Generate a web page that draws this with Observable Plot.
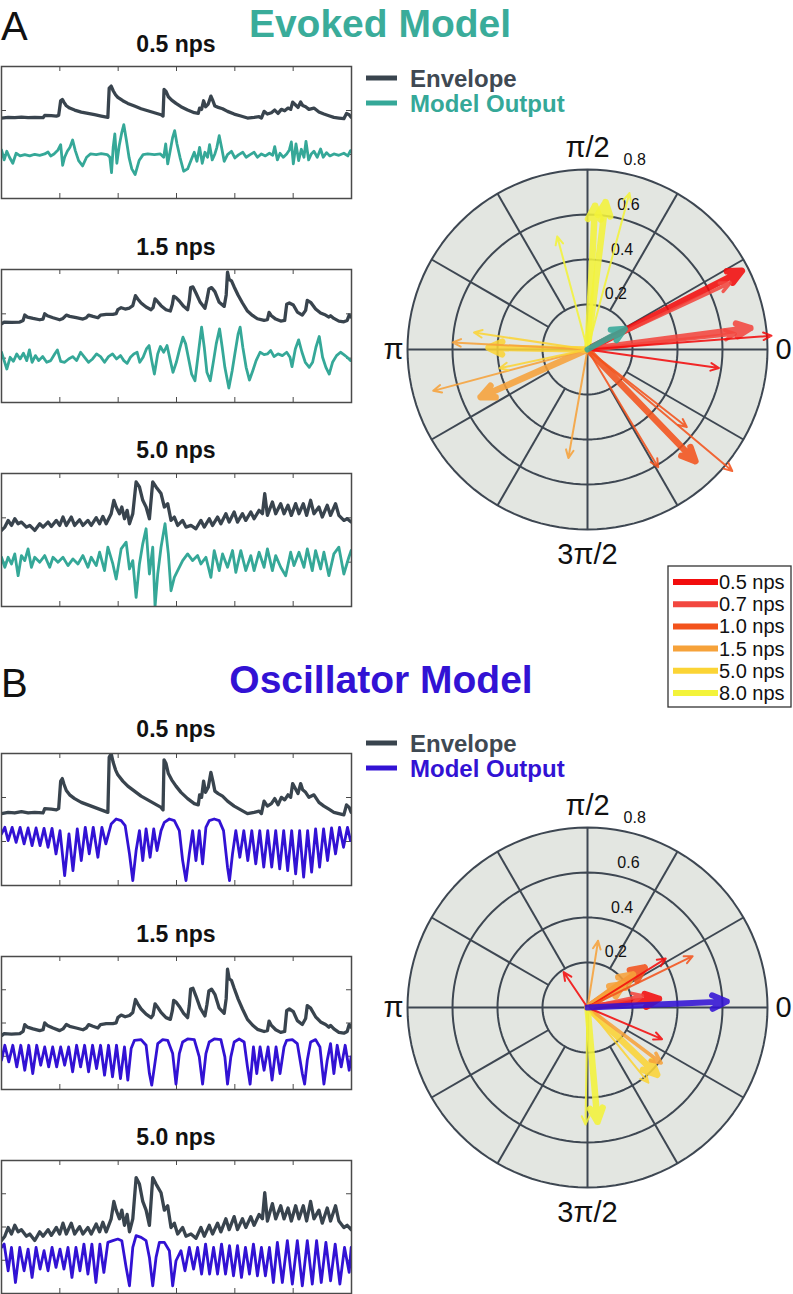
<!DOCTYPE html>
<html><head><meta charset="utf-8">
<script src="https://cdn.jsdelivr.net/npm/d3@7"></script>
<script src="https://cdn.jsdelivr.net/npm/@observablehq/plot@0.6"></script>
<style>
html,body{margin:0;padding:0;background:#fff;}
#page{position:relative;width:793px;height:1294px;overflow:hidden;font-family:"Liberation Sans",Arial,Helvetica,sans-serif;}
#page svg{position:absolute;}
</style></head><body><div id="page"></div>
<script>
// ---------------- DATA ----------------
const npsLabels = ["0.5 nps","0.7 nps","1.0 nps","1.5 nps","5.0 nps","8.0 nps"];
const npsColors = ["#f20d0d","#f2473f","#f3531c","#f6a23a","#fbd435","#f3f33a"];
const panelTitles = ["0.5 nps","1.5 nps","5.0 nps"];
const polarRings = [0.2,0.4,0.6,0.8];
const angleLabels = ["0","π/2","π","3π/2"];

// phase-locking vectors (r = vector length, deg = mean phase, w = line weight class)
const evokedArrows = [
  {nps:"8.0 nps", r:0.64, deg:87, w:3}, {nps:"8.0 nps", r:0.66, deg:83, w:3},
  {nps:"8.0 nps", r:0.72, deg:75, w:1}, {nps:"8.0 nps", r:0.52, deg:105, w:1},
  {nps:"0.5 nps", r:0.77, deg:27, w:3}, {nps:"0.7 nps", r:0.70, deg:25, w:2},
  {nps:"0.7 nps", r:0.73, deg:7.5, w:3}, {nps:"0.7 nps", r:0.66, deg:6, w:2},
  {nps:"0.5 nps", r:0.82, deg:4.3, w:1}, {nps:"0.5 nps", r:0.59, deg:-8, w:1},
  {nps:"1.0 nps", r:0.69, deg:-46, w:3}, {nps:"1.0 nps", r:0.84, deg:-40, w:1},
  {nps:"1.0 nps", r:0.56, deg:-38, w:1}, {nps:"1.0 nps", r:0.61, deg:-59, w:1},
  {nps:"1.5 nps", r:0.49, deg:-100, w:1}, {nps:"1.5 nps", r:0.71, deg:-165, w:1},
  {nps:"1.5 nps", r:0.52, deg:-156, w:3}, {nps:"1.5 nps", r:0.60, deg:177, w:1},
  {nps:"5.0 nps", r:0.51, deg:171.5, w:1}, {nps:"5.0 nps", r:0.44, deg:179, w:3},
  {nps:"5.0 nps", r:0.40, deg:-168, w:1}
];
const evokedMean = [{nps:"model", r:0.19, deg:29, w:3}];
const oscillatorArrows = [
  {nps:"1.5 nps", r:0.30, deg:81, w:1}, {nps:"0.5 nps", r:0.19, deg:124, w:1},
  {nps:"0.5 nps", r:0.41, deg:32, w:1}, {nps:"1.0 nps", r:0.52, deg:26, w:1},
  {nps:"1.0 nps", r:0.31, deg:35, w:3}, {nps:"1.5 nps", r:0.25, deg:36, w:3},
  {nps:"1.5 nps", r:0.19, deg:33, w:3}, {nps:"0.5 nps", r:0.32, deg:7, w:3},
  {nps:"0.7 nps", r:0.25, deg:12, w:2}, {nps:"0.5 nps", r:0.36, deg:-23, w:1},
  {nps:"1.5 nps", r:0.41, deg:-37, w:2}, {nps:"5.0 nps", r:0.43, deg:-44, w:3},
  {nps:"5.0 nps", r:0.43, deg:-51, w:1}, {nps:"8.0 nps", r:0.51, deg:-85, w:3},
  {nps:"8.0 nps", r:0.52, deg:-91, w:1}
];
const oscillatorMean = [{nps:"model", r:0.62, deg:2.5, w:3}];

// traces: [time sample, amplitude (a.u., larger = lower)]
const envelope05 = [[0,352],[20,350],[40,351],[60,349],[80,351],[100,350],[125,351],[130,344],[150,345],[165,346],[172,344],[178,300],[183,296],[188,305],[195,315],[205,322],[220,328],[240,334],[260,338],[280,342],[300,346],[320,350],[324,262],[330,256],[336,270],[343,282],[350,290],[365,300],[380,308],[400,316],[420,324],[440,330],[460,336],[480,342],[486,346],[489,266],[495,272],[502,288],[512,298],[525,308],[540,318],[560,328],[580,336],[592,338],[596,322],[602,326],[608,300],[614,318],[622,310],[630,286],[636,300],[642,316],[652,320],[665,324],[680,332],[700,340],[720,346],[740,352],[760,350],[775,348],[782,352],[790,332],[800,340],[812,336],[822,328],[832,338],[842,326],[852,330],[862,322],[870,326],[876,304],[884,312],[892,320],[900,304],[906,314],[915,318],[925,326],[940,322],[955,334],[970,340],[985,345],[1000,350],[1015,352],[1030,354],[1038,338],[1046,342],[1052,350]];
const envelope15 = [[0,430],[8,425],[30,426],[55,425],[65,420],[70,404],[78,410],[95,414],[115,418],[125,416],[130,400],[138,406],[155,412],[175,418],[185,414],[195,404],[205,408],[225,412],[245,416],[255,412],[262,404],[275,408],[290,412],[298,404],[315,402],[335,402],[345,400],[350,388],[360,382],[372,386],[385,383],[395,376],[403,346],[410,356],[420,368],[435,380],[450,388],[456,382],[462,356],[468,362],[480,376],[495,388],[508,392],[514,372],[518,348],[525,352],[535,362],[548,378],[560,388],[565,360],[569,322],[576,320],[585,338],[598,366],[612,384],[618,358],[624,326],[632,322],[642,334],[655,366],[670,378],[676,344],[680,276],[685,298],[692,302],[700,320],[712,345],[725,368],[740,392],[755,405],[770,415],[790,420],[800,418],[805,396],[812,406],[825,416],[840,422],[852,420],[858,372],[866,368],[878,374],[890,395],[905,404],[915,390],[920,360],[930,366],[945,386],[960,398],[975,404],[985,410],[990,406],[1000,414],[1015,422],[1030,424],[1040,420],[1046,404],[1052,410]];
const envelope50 = [[0,210],[10,200],[20,180],[30,195],[40,175],[50,190],[60,185],[75,200],[85,195],[100,210],[115,190],[125,200],[140,185],[150,198],[165,180],[175,195],[185,170],[195,195],[210,170],[220,195],[235,178],[245,195],[260,180],[270,195],[285,172],[295,190],[305,168],[315,190],[330,160],[338,120],[345,140],[355,160],[362,140],[370,175],[378,150],[385,190],[395,160],[405,65],[415,80],[425,120],[435,140],[445,175],[455,65],[465,80],[480,100],[490,140],[500,130],[510,180],[520,170],[530,195],[545,180],[555,200],[570,195],[585,205],[600,180],[610,200],[625,175],[635,195],[650,170],[660,190],[675,160],[685,185],[700,155],[710,185],[725,160],[735,180],[750,155],[760,175],[775,150],[785,160],[792,100],[800,165],[815,125],[825,160],[840,130],[850,160],[862,135],[872,165],[885,130],[895,160],[908,130],[918,165],[930,120],[940,160],[955,140],[965,170],[980,135],[990,165],[1005,130],[1015,165],[1030,180],[1040,175],[1052,185]];

const evoked05 = [[0,448],[8,478],[16,452],[24,470],[34,488],[44,458],[56,466],[70,462],[85,466],[100,461],[115,464],[130,460],[140,454],[148,466],[158,460],[170,448],[178,432],[184,494],[190,470],[198,452],[206,440],[214,418],[222,450],[232,480],[244,496],[256,470],[268,460],[285,462],[300,459],[318,462],[326,470],[331,516],[336,440],[341,400],[347,488],[354,436],[362,395],[368,372],[376,420],[384,472],[392,505],[402,522],[414,480],[426,462],[440,460],[460,462],[478,460],[488,470],[494,430],[500,490],[508,448],[515,410],[521,390],[528,430],[537,470],[548,512],[560,505],[570,480],[580,455],[588,482],[596,440],[604,488],[612,455],[620,470],[626,432],[634,478],[642,460],[648,440],[655,405],[662,440],[670,482],[680,462],[692,452],[702,472],[714,462],[726,455],[736,470],[748,462],[760,455],[770,470],[782,460],[794,466],[806,458],[816,464],[822,438],[830,478],[838,458],[848,470],[858,460],[866,448],[872,424],[878,490],[886,430],[894,480],[902,446],[910,470],[916,422],[924,478],[932,460],[940,452],[950,470],[960,445],[968,470],[978,456],[988,466],[1000,460],[1015,464],[1030,458],[1042,466],[1050,450]];
const evoked15 = [[0,515],[8,540],[16,565],[26,530],[36,542],[46,520],[56,535],[66,518],[76,540],[84,508],[92,545],[102,525],[112,540],[124,528],[136,545],[148,540],[160,520],[168,508],[178,542],[190,545],[202,535],[214,528],[226,540],[238,515],[250,530],[262,545],[274,535],[286,520],[298,528],[310,545],[322,528],[334,520],[346,535],[358,525],[368,540],[378,548],[388,530],[398,520],[408,515],[416,545],[426,530],[436,505],[444,495],[452,540],[460,580],[470,520],[478,498],[488,515],[498,495],[508,540],[516,575],[526,545],[536,505],[546,470],[554,490],[562,530],[572,580],[582,600],[592,520],[602,440],[610,500],[618,575],[628,600],[638,540],[646,490],[656,445],[664,500],[672,560],[684,622],[694,570],[702,520],[712,460],[718,440],[726,500],[736,560],[746,598],[756,570],[766,540],[778,515],[790,522],[800,520],[810,510],[820,528],[832,520],[845,525],[858,515],[868,530],[874,558],[884,505],[894,478],[904,515],[914,545],[926,560],[936,545],[946,500],[956,468],[966,530],[976,560],[986,580],[996,545],[1008,525],[1020,515],[1030,522],[1040,530],[1050,540]];
const evoked50 = [[0,290],[10,320],[20,290],[30,310],[40,280],[50,345],[60,285],[70,300],[80,265],[90,320],[100,290],[115,305],[130,285],[145,320],[155,290],[170,305],[185,290],[200,315],[215,295],[230,310],[245,285],[260,320],[270,290],[285,315],[295,275],[310,330],[320,260],[335,310],[345,355],[360,265],[375,245],[385,325],[395,300],[405,410],[415,310],[425,250],[435,205],[445,340],[455,260],[462,437],[470,340],[480,260],[492,190],[502,280],[510,390],[520,350],[530,330],[545,300],[560,280],[575,300],[590,285],[600,310],[615,290],[630,350],[640,270],[655,330],[665,280],[680,320],[695,270],[705,335],[720,270],[735,330],[750,285],[760,330],[775,275],[790,320],[800,265],[815,330],[825,285],[840,320],[855,345],[870,275],[880,315],[895,275],[910,320],[920,265],[935,330],[945,270],[960,325],[970,275],[985,345],[1000,280],[1015,260],[1030,340],[1045,290],[1052,270]];

const oscillator05 = [[0,700],[10,680],[20,720],[32,680],[44,725],[56,680],[68,730],[80,682],[92,735],[104,682],[116,735],[128,683],[140,740],[152,683],[164,760],[176,690],[190,825],[203,700],[215,810],[228,685],[240,780],[252,680],[264,760],[276,680],[290,770],[302,680],[314,730],[322,700],[330,670],[345,655],[360,660],[372,675],[385,760],[395,840],[405,750],[415,690],[425,780],[435,685],[447,770],[458,685],[468,750],[480,690],[490,665],[505,655],[520,660],[535,690],[545,780],[555,840],[565,760],[575,690],[585,780],[595,690],[605,790],[615,680],[625,660],[640,655],[655,660],[668,690],[680,800],[686,840],[695,760],[705,690],[717,770],[729,690],[741,780],[753,690],[765,790],[777,690],[789,800],[801,690],[813,800],[825,690],[837,805],[849,690],[861,810],[873,690],[885,820],[897,690],[909,830],[921,690],[933,815],[945,685],[957,800],[969,685],[981,780],[993,682],[1005,760],[1017,680],[1029,740],[1041,680],[1050,720]];
const oscillator15 = [[0,540],[10,495],[22,545],[34,495],[46,560],[58,495],[70,570],[82,495],[94,580],[106,495],[118,555],[130,500],[142,560],[154,500],[166,560],[178,500],[190,555],[202,500],[214,575],[226,495],[238,560],[250,495],[262,575],[274,495],[286,565],[298,495],[310,585],[322,495],[334,590],[346,495],[358,595],[370,500],[380,600],[390,505],[400,480],[420,478],[435,495],[445,580],[452,615],[460,560],[470,490],[485,478],[500,480],[515,520],[525,612],[535,520],[545,485],[560,476],[580,478],[595,530],[605,612],[615,520],[625,485],[640,476],[660,478],[672,530],[680,612],[690,530],[700,485],[715,476],[730,485],[740,560],[748,612],[758,500],[768,580],[778,500],[790,570],[802,500],[814,600],[826,500],[838,580],[850,500],[858,480],[875,478],[890,490],[905,580],[912,612],[920,540],[930,485],[945,478],[958,500],[970,612],[980,540],[990,490],[1000,580],[1010,495],[1022,560],[1034,495],[1046,570],[1052,530]];
const oscillator50 = [[0,440],[8,430],[20,510],[30,440],[42,545],[55,440],[68,510],[80,445],[92,530],[104,440],[116,505],[128,450],[140,510],[152,440],[164,500],[176,445],[188,505],[200,440],[212,530],[224,440],[236,510],[248,430],[260,520],[272,430],[284,545],[296,430],[308,515],[320,425],[335,420],[350,415],[362,420],[375,500],[385,555],[395,440],[405,405],[420,410],[435,420],[445,470],[455,555],[465,470],[475,425],[490,425],[505,450],[515,555],[525,480],[540,450],[552,510],[565,440],[578,505],[590,440],[602,520],[614,430],[626,520],[638,440],[650,520],[662,430],[674,520],[686,435],[698,525],[710,435],[722,530],[734,440],[746,520],[758,430],[770,525],[782,440],[794,525],[806,440],[818,545],[830,425],[845,545],[860,420],[875,550],[890,420],[905,555],[920,420],[935,550],[948,420],[962,545],[976,425],[990,540],[1004,430],[1018,550],[1032,440],[1046,515],[1052,440]];

// ---------------- STYLE / LAYOUT ----------------
const envColor = "#39444e", teal = "#35a898", purple = "#3212d4";
const gridColor = "#3e4752", polarBg = "#e3e6e1", boxColor = "#4a4a4a";
const FONT = '"Liberation Sans", Arial, Helvetica, sans-serif';
const page = document.getElementById("page");

function place(el, left, top) { el.style.left = left + "px"; el.style.top = top + "px"; page.appendChild(el); }

function tracePanel({pageTop, pageBottom, domain, env, out, outColor, nY}) {
  const W = 353, H = pageBottom - pageTop + 2, mT = 1, mB = 1, mL = 1, mR = 2;
  const pw = W - mL - mR, ph = H - mT - mB;
  const xTicks = d3.range(1, 6).map(k => k * 1053 / 6);
  const yTicks = d3.range(1, nY).map(k => domain[0] + (domain[1] - domain[0]) * k / nY);
  const p = Plot.plot({
    width: W, height: H, marginTop: mT, marginBottom: mB, marginLeft: mL, marginRight: mR,
    style: {background: "transparent", overflow: "visible"},
    x: {domain: [0, 1053], axis: null}, y: {domain, axis: null},
    marks: [
      Plot.tickX(xTicks, {x: d => d, insetBottom: ph - 5, stroke: boxColor, strokeWidth: 1}),
      Plot.tickX(xTicks, {x: d => d, insetTop: ph - 5, stroke: boxColor, strokeWidth: 1}),
      Plot.tickY(yTicks, {y: d => d, insetRight: pw - 5, stroke: boxColor, strokeWidth: 1}),
      Plot.tickY(yTicks, {y: d => d, insetLeft: pw - 5, stroke: boxColor, strokeWidth: 1}),
      Plot.line(env, {x: d => d[0], y: d => d[1], stroke: envColor, strokeWidth: 3.3, clip: true}),
      Plot.line(out, {x: d => d[0], y: d => d[1], stroke: outColor, strokeWidth: 2.8, clip: true}),
      Plot.frame({stroke: boxColor, strokeWidth: 1.5})
    ]
  });
  place(p, 0, pageTop - 1);
}

function shiftEnv(env, from, to, gain) { return env.map(([t, v]) => [t, to + (v - from) * gain]); }

// Evoked panels
tracePanel({pageTop: 66, pageBottom: 198, domain: [594, 197], env: envelope05, out: evoked05, outColor: teal, nY: 3});
tracePanel({pageTop: 269, pageBottom: 402, domain: [665, 268], env: envelope15, out: evoked15, outColor: teal, nY: 3});
tracePanel({pageTop: 473, pageBottom: 606, domain: [437, 40], env: envelope50, out: evoked50, outColor: teal, nY: 3});
// Oscillator panels (same envelopes, different display gain)
tracePanel({pageTop: 753, pageBottom: 885, domain: [855, 458], env: shiftEnv(envelope05, 350, 635, 1.88), out: oscillator05, outColor: purple, nY: 3});
tracePanel({pageTop: 956, pageBottom: 1089, domain: [628, 228], env: shiftEnv(envelope15, 425, 460, 1.3), out: oscillator15, outColor: purple, nY: 4});
tracePanel({pageTop: 1160, pageBottom: 1293, domain: [578, 180], env: shiftEnv(envelope50, 195, 400, 1.3), out: oscillator50, outColor: purple, nY: 4});

// Polar plots
function polarPanel({top, arrows, mean, modelColor}) {
  const rad = d => d * Math.PI / 180;
  const circ = r => d3.range(0, 361, 3).map(a => ({r, x: r * Math.cos(rad(a)), y: r * Math.sin(rad(a))}));
  const ringPts = polarRings.flatMap(circ);
  const outer = d3.max(polarRings);
  const spokes = d3.range(0, 360, 30).map(a => ({a, r0: a % 90 === 0 ? 0 : polarRings[0], r1: outer}));
  const X = d => d.r * Math.cos(rad(d.deg)), Y = d => d.r * Math.sin(rad(d.deg));
  // Plot scales the arrow head by strokeWidth/1.5, so pass the wanted head size in those units
  const arrowMark = (data, sw, head) => Plot.arrow(data, {
    x1: () => 0, y1: () => 0, x2: X, y2: Y, stroke: d => d.nps,
    strokeWidth: sw, headLength: head * 1.5 / sw, headAngle: 50, strokeOpacity: 0.88, strokeLinejoin: "miter"
  });
  const lab = (i, opts) => Plot.text([angleLabels[i]], {
    x: () => outer * Math.cos(rad(90 * i)), y: () => outer * Math.sin(rad(90 * i)),
    text: d => d, fontSize: 29, fill: "#111", ...opts
  });
  const p = Plot.plot({
    width: 413, height: 440, marginLeft: 27, marginRight: 26, marginTop: 39, marginBottom: 41,
    style: {background: "transparent", overflow: "visible", fontFamily: FONT},
    x: {domain: [-outer, outer], axis: null}, y: {domain: [-outer, outer], axis: null},
    color: {domain: [...npsLabels, "model"], range: [...npsColors, modelColor]},
    marks: [
      Plot.line(circ(outer), {x: "x", y: "y", fill: polarBg, stroke: "none"}),
      Plot.line(ringPts, {x: "x", y: "y", z: "r", stroke: gridColor, strokeWidth: 2}),
      Plot.link(spokes, {
        x1: d => d.r0 * Math.cos(rad(d.a)), y1: d => d.r0 * Math.sin(rad(d.a)),
        x2: d => d.r1 * Math.cos(rad(d.a)), y2: d => d.r1 * Math.sin(rad(d.a)),
        stroke: gridColor, strokeWidth: 2
      }),
      Plot.text(polarRings, {x: r => r * Math.cos(rad(82)), y: r => r * Math.sin(rad(82)),
        text: r => r.toFixed(1), textAnchor: "start", dx: 11, dy: -11, fontSize: 16, fill: "#111"}),
      lab(0, {dx: 16}), lab(1, {dy: -22}), lab(2, {dx: -14}), lab(3, {dy: 25}),
      arrowMark(arrows.filter(d => d.w === 3), 6.5, 15),
      arrowMark(arrows.filter(d => d.w === 2), 3.5, 11),
      arrowMark(arrows.filter(d => d.w === 1), 2, 9),
      arrowMark(mean, 6, 16)
    ]
  });
  place(p, 380, top);
}
polarPanel({top: 130, arrows: evokedArrows, mean: evokedMean, modelColor: teal});
polarPanel({top: 788, arrows: oscillatorArrows, mean: oscillatorMean, modelColor: purple});

// ---------------- TEXT OVERLAY ----------------
const ov = d3.select(page).append("svg").attr("width", 793).attr("height", 1294)
  .style("left", "0px").style("top", "0px").style("font-family", FONT);
function txt(x, y, s, size, weight, fill, anchor) {
  ov.append("text").attr("x", x).attr("y", y).attr("font-size", size).attr("font-weight", weight)
    .attr("fill", fill).attr("text-anchor", anchor).text(s);
}
txt(1, 40, "A", 40, "normal", "#111", "start");
txt(380, 37, "Evoked Model", 39, "bold", "#3aac9a", "middle");
txt(1, 697, "B", 40, "normal", "#111", "start");
txt(381, 693, "Oscillator Model", 39, "bold", purple, "middle");
[52, 255, 458].forEach((y, i) => txt(176, y, panelTitles[i], 23, "bold", "#111", "middle"));
[737, 942, 1145].forEach((y, i) => txt(176, y, panelTitles[i], 23, "bold", "#111", "middle"));

function traceLegend(y0, outColor) {
  [["Envelope", envColor, "#3f4952"], ["Model Output", outColor, outColor]].forEach(([s, c, tc], i) => {
    const y = y0 + i * 25;
    ov.append("line").attr("x1", 366).attr("x2", 397).attr("y1", y).attr("y2", y).attr("stroke", c).attr("stroke-width", 5);
    txt(410, y + 8.5, s, 24, "bold", tc, "start");
  });
}
traceLegend(78, teal);
traceLegend(743, purple);

// nps legend
ov.append("rect").attr("x", 668).attr("y", 566).attr("width", 123).attr("height", 141)
  .attr("fill", "#fff").attr("stroke", "#333").attr("stroke-width", 1.3);
npsLabels.forEach((s, i) => {
  const y = 582 + i * 22.2;
  ov.append("line").attr("x1", 673).attr("x2", 718).attr("y1", y).attr("y2", y).attr("stroke", npsColors[i]).attr("stroke-width", 6);
  txt(719, y + 7, s, 20, "normal", "#111", "start");
});
</script></body></html>
